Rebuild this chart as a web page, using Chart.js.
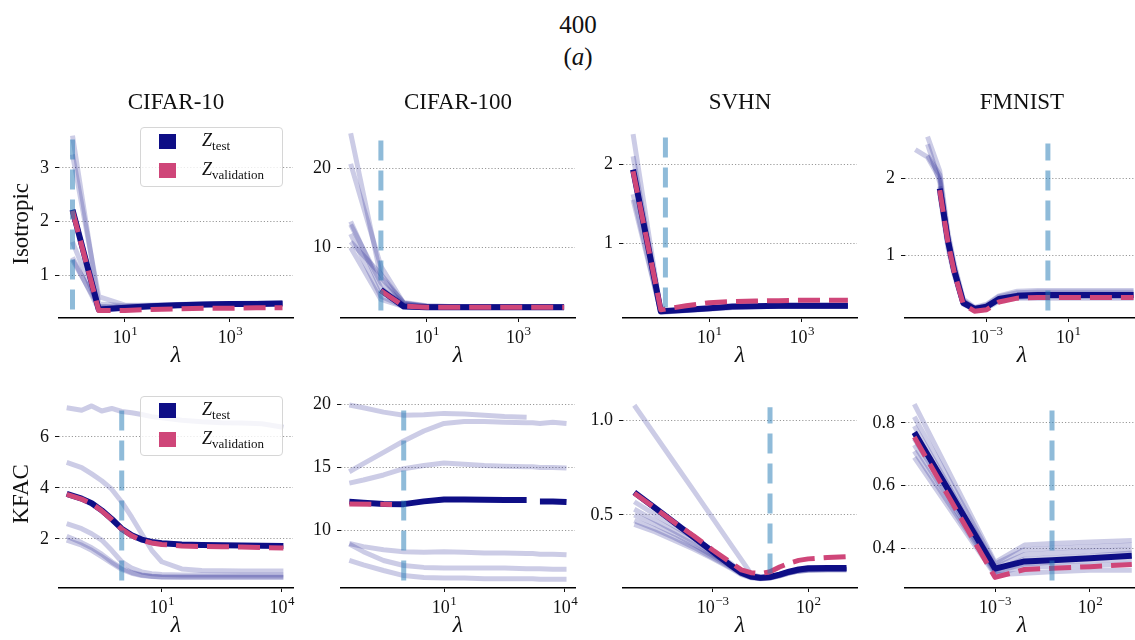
<!DOCTYPE html>
<html>
<head>
<meta charset="utf-8">
<script src="https://cdn.jsdelivr.net/npm/chart.js@4.4.1/dist/chart.umd.min.js"></script>
<style>
  body { margin: 0; width: 1135px; height: 640px; overflow: hidden; background: #fff; position: relative; font-family: "Liberation Serif", serif; color: #111; }
  canvas { position: absolute; }
  .sup { position: absolute; left: 0; width: 1156px; text-align: center; font-size: 25px; line-height: 30px; }
  .ttl { position: absolute; width: 234px; text-align: center; font-size: 23px; line-height: 26px; }
  .legend { position: absolute; width: 141px; height: 58px; border: 1px solid #d6d6d6; border-radius: 4px; background: rgba(255,255,255,0.8); z-index: 5; }
  .sw { position: absolute; left: 18px; width: 17px; height: 15px; }
  .lt { position: absolute; left: 61px; font-size: 18px; line-height: 20px; white-space: nowrap; }
  .lt sub { font-style: normal; font-size: 13px; vertical-align: -4px; }
</style>
</head>
<body>
<div class="sup" style="top:10px">400</div>
<div class="sup" style="top:42px">(<i>a</i>)</div>

<script>
// ---------- data (lambda given as log10 exponents) ----------
// CIFAR-10, Isotropic
const c10IsoExp  = [0, 0.5, 1, 1.5, 2, 2.5, 3, 3.5, 4];
const c10IsoTest = [2.22, 0.36, 0.39, 0.42, 0.44, 0.45, 0.46, 0.46, 0.47];
const c10IsoVal  = [2.2, 0.34, 0.34, 0.36, 0.37, 0.38, 0.38, 0.39, 0.39];
const c10IsoRuns = [
  [3.6, 0.46, 0.43, 0.44, 0.45, 0.46, 0.47, 0.48, 0.48],
  [3.25, 0.6, 0.44, 0.44, 0.45, 0.46, 0.47, 0.47, 0.48],
  [2.22, 0.37, 0.39, 0.42, 0.44, 0.45, 0.46, 0.46, 0.47],
  [1.62, 0.4, 0.4, 0.42, 0.44, 0.45, 0.45, 0.46, 0.47],
  [1.33, 0.36, 0.38, 0.41, 0.43, 0.44, 0.45, 0.46, 0.46],
  [1.28, 0.42, 0.4, 0.42, 0.43, 0.44, 0.45, 0.46, 0.47]
];
const c10IsoCut = [0, 0.36, 3.57];
const c10IsoYTicks = [1, 2, 3];

// CIFAR-100, Isotropic
const c100IsoExp  = [0, 0.5, 1, 1.5, 2, 2.5, 3, 3.5, 4];
const c100IsoTest = [4.6, 2.5, 2.4, 2.4, 2.4, 2.4, 2.4, 2.4, 2.4];
const c100IsoVal  = [4.5, 2.55, 2.4, 2.4, 2.4, 2.4, 2.4, 2.4, 2.4];
const c100IsoRunExp = [-0.66, 0, 0.5, 1, 1.5, 2, 2.5, 3, 3.5, 4];
const c100IsoRuns = [
  [24.5, 6.2, 3.0, 2.6, 2.5, 2.5, 2.5, 2.5, 2.5, 2.5],
  [20.6, 7.6, 2.9, 2.55, 2.5, 2.5, 2.5, 2.5, 2.5, 2.5],
  [13.3, 4.8, 2.7, 2.5, 2.45, 2.45, 2.45, 2.45, 2.45, 2.45],
  [12.9, 5.5, 2.8, 2.5, 2.45, 2.45, 2.45, 2.45, 2.45, 2.45],
  [11.7, 3.8, 2.5, 2.4, 2.4, 2.4, 2.4, 2.4, 2.4, 2.4],
  [10.7, 6.6, 2.9, 2.5, 2.45, 2.45, 2.45, 2.45, 2.45, 2.45],
  [10.0, 3.4, 2.5, 2.4, 2.4, 2.4, 2.4, 2.4, 2.4, 2.4]
];
const c100IsoCut = [0, 2.0, 23.9];
const c100IsoYTicks = [10, 20];

// SVHN, Isotropic
const svhnIsoExp  = [-0.65, -0.05, 0.5, 1, 1.5, 2, 2.5, 3, 3.5, 4];
const svhnIsoTest = [1.93, 0.14, 0.16, 0.18, 0.2, 0.205, 0.21, 0.21, 0.21, 0.21];
const svhnIsoVal  = [1.91, 0.16, 0.21, 0.25, 0.265, 0.27, 0.275, 0.28, 0.28, 0.28];
const svhnIsoRuns = [
  [2.38, 0.14, 0.16, 0.18, 0.2, 0.21, 0.21, 0.21, 0.21, 0.21],
  [2.1, 0.14, 0.16, 0.18, 0.2, 0.2, 0.21, 0.21, 0.21, 0.21],
  [1.93, 0.14, 0.16, 0.18, 0.2, 0.205, 0.21, 0.21, 0.21, 0.21],
  [1.62, 0.13, 0.15, 0.17, 0.19, 0.2, 0.2, 0.2, 0.2, 0.2],
  [1.55, 0.13, 0.15, 0.17, 0.19, 0.2, 0.2, 0.2, 0.2, 0.2]
];
const svhnIsoCut = [0.05, 0.19, 2.34];
const svhnIsoYTicks = [1, 2];

// FMNIST, Isotropic
const fmIsoExp  = [-6.5, -5.9, -5.3, -4.9, -4.6, -4.15, -3.6, -3.0, -2.4, -1.5, -0.5, 0.5, 1.5, 2.5, 3.5, 4.2];
const fmIsoTest = [null, null, 1.87, 1.19, 0.81, 0.38, 0.30, 0.33, 0.43, 0.47, 0.48, 0.48, 0.48, 0.48, 0.48, 0.48];
const fmIsoVal  = [null, null, 1.85, 1.17, 0.79, 0.36, 0.27, 0.29, 0.39, 0.44, 0.45, 0.45, 0.45, 0.45, 0.45, 0.45];
const fmIsoRuns = [
  [2.38, 2.28, 2.0, 1.25, 0.86, 0.41, 0.31, 0.35, 0.46, 0.51, 0.52, 0.52, 0.52, 0.52, 0.52, 0.52],
  [null, 2.55, 2.1, 1.3, 0.9, 0.43, 0.32, 0.36, 0.47, 0.53, 0.54, 0.54, 0.54, 0.54, 0.54, 0.54],
  [null, 2.45, 1.95, 1.2, 0.8, 0.38, 0.29, 0.32, 0.42, 0.46, 0.47, 0.47, 0.47, 0.47, 0.47, 0.47],
  [null, 2.3, 2.05, 1.15, 0.78, 0.37, 0.3, 0.33, 0.44, 0.48, 0.49, 0.49, 0.49, 0.49, 0.49, 0.49],
  [null, null, 1.9, 1.22, 0.83, 0.4, 0.31, 0.33, 0.41, 0.44, 0.44, 0.44, 0.44, 0.44, 0.44, 0.44],
  [null, null, 1.8, 1.1, 0.75, 0.36, 0.29, 0.31, 0.4, 0.45, 0.46, 0.46, 0.46, 0.46, 0.46, 0.46]
];
const fmIsoCut = [0, 0.28, 2.46];
const fmIsoYTicks = [1, 2];

// CIFAR-10, KFAC
const c10KfacExp  = [-1.375, -1, -0.75, -0.5, -0.25, 0, 0.25, 0.5, 0.75, 1, 1.5, 2, 2.5, 3, 3.5, 4.04];
const c10KfacTest = [3.77, 3.58, 3.40, 3.12, 2.78, 2.40, 2.14, 1.97, 1.88, 1.83, 1.78, 1.76, 1.75, 1.74, 1.73, 1.72];
const c10KfacVal  = [3.75, 3.56, 3.38, 3.10, 2.76, 2.38, 2.12, 1.94, 1.84, 1.78, 1.72, 1.70, 1.69, 1.68, 1.66, 1.64];
const c10KfacRuns = [
  [7.15, 7.05, 7.22, 7.02, 7.12, 7.0, 6.95, 6.88, 6.8, 6.75, 6.66, 6.6, 6.56, 6.55, 6.52, 6.38],
  [5.0, 4.8, 4.55, 4.28, 3.95, 3.45, 2.85, 2.2, 1.55, 1.1, 0.82, 0.76, 0.75, 0.74, 0.74, 0.74],
  [2.6, 2.4, 2.2, 1.95, 1.55, 1.1, 0.85, 0.7, 0.63, 0.6, 0.58, 0.58, 0.58, 0.58, 0.58, 0.58],
  [2.1, 1.85, 1.65, 1.4, 1.1, 0.85, 0.68, 0.58, 0.53, 0.5, 0.49, 0.49, 0.49, 0.49, 0.49, 0.49],
  [1.95, 1.75, 1.55, 1.3, 1.05, 0.8, 0.65, 0.56, 0.52, 0.5, 0.5, 0.5, 0.5, 0.5, 0.5, 0.5]
];
const c10KfacCut = [0, 0.36, 7.18];
const c10KfacYTicks = [2, 4, 6];

// CIFAR-100, KFAC
const c100KfacExp  = [-1.35, -1, -0.5, 0, 0.5, 1, 1.5, 2, 2.5, 3.05, 3.2, 3.38, 3.7, 4.04];
const c100KfacTest = [12.28, 12.2, 12.1, 12.08, 12.3, 12.45, 12.45, 12.42, 12.4, 12.4, null, 12.3, 12.3, 12.25];
const c100KfacValExp = [-1.35, -0.8, -0.29];
const c100KfacVal  = [12.1, 12.08, 12.05];
const c100KfacRuns = [
  [19.97, 19.75, 19.4, 19.15, 19.2, 19.3, 19.25, 19.15, 19.05, 19.0, null, null, null, null],
  [14.66, 15.3, 16.2, 17.1, 17.9, 18.5, 18.65, 18.65, 18.6, 18.55, 18.55, 18.5, 18.6, 18.5],
  [13.75, 14.0, 14.4, 14.9, 15.15, 15.35, 15.25, 15.15, 15.1, 15.05, 15.05, 15.0, 15.0, 14.95],
  [8.95, 8.7, 8.45, 8.3, 8.25, 8.3, 8.25, 8.2, 8.2, 8.15, 8.15, 8.1, 8.1, 8.05],
  [8.9, 8.3, 7.6, 7.2, 7.05, 7.0, 7.0, 7.0, 7.0, 6.95, 6.95, 6.95, 6.9, 6.9],
  [7.6, 7.25, 6.8, 6.4, 6.25, 6.2, 6.2, 6.15, 6.15, 6.15, 6.15, 6.1, 6.1, 6.1]
];
const c100KfacCut = [0, 6.0, 19.85];
const c100KfacYTicks = [10, 15, 20];

// SVHN, KFAC
const svhnKfacExp  = [-7.1, -6, -5, -4, -3, -2, -1.5, -1, -0.5, 0, 0.5, 1, 1.5, 2, 3, 4];
const svhnKfacTest = [0.62, 0.536, 0.46, 0.383, 0.306, 0.23, 0.195, 0.175, 0.168, 0.172, 0.185, 0.2, 0.212, 0.218, 0.22, 0.22];
const svhnKfacVal  = [0.615, 0.535, 0.46, 0.39, 0.315, 0.245, 0.21, 0.195, 0.19, 0.2, 0.225, 0.245, 0.26, 0.268, 0.275, 0.28];
const svhnKfacRuns = [
  [1.08, 0.92, 0.775, 0.63, 0.483, 0.337, 0.264, 0.19, 0.17, 0.172, 0.185, 0.2, 0.21, 0.215, 0.215, 0.215],
  [0.57, 0.5, 0.44, 0.38, 0.31, 0.24, 0.2, 0.178, 0.17, 0.172, 0.185, 0.2, 0.21, 0.215, 0.215, 0.215],
  [0.53, 0.47, 0.415, 0.36, 0.295, 0.23, 0.195, 0.175, 0.167, 0.17, 0.182, 0.197, 0.207, 0.212, 0.213, 0.213],
  [0.5, 0.45, 0.4, 0.345, 0.285, 0.225, 0.19, 0.172, 0.165, 0.168, 0.18, 0.195, 0.205, 0.21, 0.21, 0.21],
  [0.47, 0.425, 0.38, 0.33, 0.275, 0.22, 0.188, 0.17, 0.164, 0.167, 0.178, 0.193, 0.203, 0.208, 0.21, 0.21],
  [0.45, 0.41, 0.365, 0.32, 0.27, 0.215, 0.185, 0.168, 0.163, 0.166, 0.178, 0.193, 0.203, 0.208, 0.21, 0.21]
];
const svhnKfacCut = [0, 0.19, 1.07];
const svhnKfacYTicks = [0.5, 1.0];

// FMNIST, KFAC
const fmKfacExp  = [-7.25, -3, -1.45, 0, 2, 4.2];
const fmKfacTest = [0.77, 0.335, 0.358, 0.362, 0.368, 0.376];
const fmKfacVal  = [0.755, 0.307, 0.332, 0.336, 0.341, 0.348];
const fmKfacRuns = [
  [0.86, 0.355, 0.41, 0.415, 0.42, 0.425],
  [0.82, 0.35, 0.395, 0.4, 0.405, 0.41],
  [0.79, 0.34, 0.38, 0.385, 0.39, 0.395],
  [0.75, 0.33, 0.365, 0.37, 0.375, 0.385],
  [0.73, 0.325, 0.35, 0.355, 0.36, 0.365],
  [0.71, 0.32, 0.34, 0.342, 0.345, 0.35],
  [0.69, 0.315, 0.32, 0.325, 0.33, 0.33]
];
const fmKfacCut = [0, 0.297, 0.85];
const fmKfacYTicks = [0.4, 0.6, 0.8];

const datasetNames = ['CIFAR-10', 'CIFAR-100', 'SVHN', 'FMNIST'];
const rowNames = ['Isotropic', 'KFAC'];

// ---------- layout / style ----------
const NAVY = '#0e0e86';
const PINK = '#cf4679';
const FAINT = 'rgba(0, 0, 128, 0.2)';
const CUT = 'rgba(31, 119, 180, 0.5)';
const PLOT_W = 234, PLOT_H = 199, PT = 6, PR = 8, XH = 52;
const colLeft = [59, 341, 623, 905];
const rowTop = [119, 389];
const SERIF = '"Liberation Serif", serif';

Chart.defaults.font.family = SERIF;
Chart.defaults.color = '#111';

const panels = [
  { r: 0, c: 0, exp: c10IsoExp, test: c10IsoTest, valExp: c10IsoExp, val: c10IsoVal, runExp: c10IsoExp, runs: c10IsoRuns, cut: c10IsoCut,
    xr: [-0.257, 4.2], xt: [1, 3], yr: [0.2, 3.71], yt: c10IsoYTicks, dec: 0 },
  { r: 0, c: 1, exp: c100IsoExp, test: c100IsoTest, valExp: c100IsoExp, val: c100IsoVal, runExp: c100IsoRunExp, runs: c100IsoRuns, cut: c100IsoCut,
    xr: [-0.871, 4.238], xt: [1, 3], yr: [1.04, 24.93], yt: c100IsoYTicks, dec: 0 },
  { r: 0, c: 2, exp: svhnIsoExp, test: svhnIsoTest, valExp: svhnIsoExp, val: svhnIsoVal, runExp: svhnIsoExp, runs: svhnIsoRuns, cut: svhnIsoCut,
    xr: [-0.868, 4.197], xt: [1, 3], yr: [0.056, 2.434], yt: svhnIsoYTicks, dec: 0 },
  { r: 0, c: 3, exp: fmIsoExp, test: fmIsoTest, valExp: fmIsoExp, val: fmIsoVal, runExp: fmIsoExp, runs: fmIsoRuns, cut: fmIsoCut,
    xr: [-7.005, 4.466], xt: [-3, 1], yr: [0.181, 2.638], yt: fmIsoYTicks, dec: 0 },
  { r: 1, c: 0, exp: c10KfacExp, test: c10KfacTest, valExp: c10KfacExp, val: c10KfacVal, runExp: c10KfacExp, runs: c10KfacRuns, cut: c10KfacCut,
    xr: [-1.567, 4.28], xt: [1, 4], yr: [0.07, 7.46], yt: c10KfacYTicks, dec: 0 },
  { r: 1, c: 1, exp: c100KfacExp, test: c100KfacTest, valExp: c100KfacValExp, val: c100KfacVal, runExp: c100KfacExp, runs: c100KfacRuns, cut: c100KfacCut,
    xr: [-1.556, 4.25], xt: [1, 4], yr: [5.41, 20.38], yt: c100KfacYTicks, dec: 0 },
  { r: 1, c: 2, exp: svhnKfacExp, test: svhnKfacTest, valExp: svhnKfacExp, val: svhnKfacVal, runExp: svhnKfacExp, runs: svhnKfacRuns, cut: svhnKfacCut,
    xr: [-7.69, 4.55], xt: [-3, 2], yr: [0.114, 1.109], yt: svhnKfacYTicks, dec: 1 },
  { r: 1, c: 3, exp: fmKfacExp, test: fmKfacTest, valExp: fmKfacExp, val: fmKfacVal, runExp: fmKfacExp, runs: fmKfacRuns, cut: fmKfacCut,
    xr: [-7.74, 4.58], xt: [-3, 2], yr: [0.273, 0.874], yt: fmKfacYTicks, dec: 1 }
];

function pts(exps, vals) {
  return exps.map((e, i) => ({ x: Math.pow(10, e), y: vals[i] }));
}

// draws the x tick labels as 10 with a raised exponent, like mathtext
const powerTicks = {
  id: 'powerTicks',
  afterDraw(chart, args, opts) {
    const s = chart.scales.x;
    const ctx = chart.ctx;
    ctx.save();
    ctx.fillStyle = '#111';
    ctx.textBaseline = 'alphabetic';
    ctx.textAlign = 'left';
    const base = s.top + 25;
    opts.exps.forEach(e => {
      const x = s.getPixelForValue(Math.pow(10, e));
      const expText = e < 0 ? '\u2212' + Math.abs(e) : String(e);
      ctx.font = '18px ' + SERIF;
      const w1 = ctx.measureText('10').width;
      ctx.font = '13px ' + SERIF;
      const w2 = ctx.measureText(expText).width;
      const x0 = x - (w1 + w2) / 2;
      ctx.font = '18px ' + SERIF;
      ctx.fillText('10', x0, base);
      ctx.font = '13px ' + SERIF;
      ctx.fillText(expText, x0 + w1 + 0.5, base - 8);
    });
    ctx.restore();
  }
};

function makePanel(p) {
  const yw = p.c === 0 ? 59 : 48;
  const canvas = document.createElement('canvas');
  canvas.width = yw + PLOT_W + PR;
  canvas.height = PT + PLOT_H + XH;
  canvas.style.left = (colLeft[p.c] - yw) + 'px';
  canvas.style.top = (rowTop[p.r] - PT) + 'px';
  document.body.appendChild(canvas);

  const datasets = [];
  datasets.push({ data: [{ x: Math.pow(10, p.cut[0]), y: p.cut[1] }, { x: Math.pow(10, p.cut[0]), y: p.cut[2] }],
    borderColor: CUT, borderWidth: 5, borderDash: [20, 10], order: 0 });
  datasets.push({ data: pts(p.valExp, p.val), borderColor: PINK, borderWidth: 5, borderDash: [22, 9], order: 1 });
  datasets.push({ data: pts(p.exp, p.test), borderColor: NAVY, borderWidth: 6, order: 2 });
  p.runs.forEach(run => {
    datasets.push({ data: pts(p.runExp, run), borderColor: FAINT, borderWidth: 5, order: 3 });
  });

  new Chart(canvas, {
    type: 'line',
    data: { datasets },
    plugins: [powerTicks],
    options: {
      responsive: false,
      animation: false,
      devicePixelRatio: 1,
      layout: { padding: { top: PT, right: PR, left: 0, bottom: 0 } },
      elements: { point: { radius: 0 }, line: { tension: 0, borderJoinStyle: 'round' } },
      plugins: { legend: { display: false }, tooltip: { enabled: false }, powerTicks: { exps: p.xt } },
      scales: {
        x: {
          type: 'logarithmic',
          min: Math.pow(10, p.xr[0]),
          max: Math.pow(10, p.xr[1]),
          afterBuildTicks: s => { s.ticks = p.xt.map(e => ({ value: Math.pow(10, e) })); },
          afterFit: s => { s.height = XH; },
          ticks: { display: false },
          grid: { drawOnChartArea: false, drawTicks: true, tickLength: 4, tickColor: '#111', tickWidth: 1 },
          border: { display: true, color: '#000', width: 1.6 },
          title: { display: true, text: '\u03BB', font: { size: 24, style: 'italic' }, color: '#111', padding: { top: 0, bottom: 0 } }
        },
        y: {
          type: 'linear',
          min: p.yr[0],
          max: p.yr[1],
          afterBuildTicks: s => { s.ticks = p.yt.map(v => ({ value: v })); },
          afterFit: s => { s.width = yw; },
          ticks: { callback: v => v.toFixed(p.dec), font: { size: 18 }, color: '#111', padding: 6 },
          grid: { color: 'rgba(0,0,0,0.5)', lineWidth: 0.8, drawTicks: true, tickLength: 4, tickColor: '#111', tickWidth: 1, tickBorderDash: [] },
          border: { display: false, dash: [1.2, 2] },
          title: { display: p.c === 0, text: rowNames[p.r], font: { size: 23 }, color: '#111', padding: { top: 8, bottom: 0 } }
        }
      }
    }
  });
}

panels.forEach(makePanel);

// subplot titles
datasetNames.forEach((name, c) => {
  const d = document.createElement('div');
  d.className = 'ttl';
  d.style.left = colLeft[c] + 'px';
  d.style.top = '89px';
  d.textContent = name;
  document.body.appendChild(d);
});

// legends (first column)
[127, 396].forEach(top => {
  const lg = document.createElement('div');
  lg.className = 'legend';
  lg.style.left = '140px';
  lg.style.top = top + 'px';
  lg.innerHTML =
    '<span class="sw" style="top:6px;background:' + NAVY + '"></span>' +
    '<span class="lt" style="top:2px"><i>Z</i><sub>test</sub></span>' +
    '<span class="sw" style="top:35px;background:' + PINK + '"></span>' +
    '<span class="lt" style="top:31px"><i>Z</i><sub>validation</sub></span>';
  document.body.appendChild(lg);
});
</script>
</body>
</html>
